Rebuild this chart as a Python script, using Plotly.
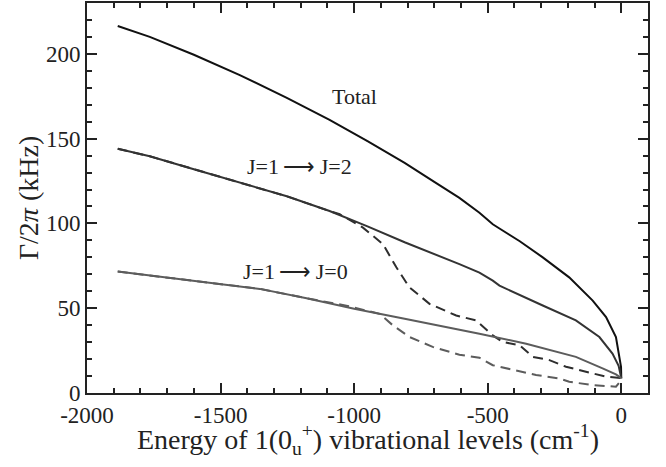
import plotly.graph_objects as go

# values (energy in cm^-1, rate in kHz)
x_total = [-1885, -1765, -1600, -1428, -1252, -1092, -950, -811, -700, -606, -531,
           -481, -456, -380, -294, -195, -107, -57, -20, -1, 0]
y_total = [216.4, 210, 199.5, 187.5, 174, 161.1, 148.5, 135.7, 124.5, 115.1, 106.3,
           99.5, 97, 89.5, 80, 68.2, 54.5, 44.8, 33, 15.4, 8.5]

x_j2 = [-1885, -1765, -1600, -1428, -1252, -1092, -950, -811, -700, -606, -531,
        -481, -456, -380, -294, -170, -82, -33, -10, 0]
y_j2 = [144, 139.6, 132, 123.9, 116, 107.3, 98.3, 88.9, 82, 76, 71,
        66.3, 63.3, 58, 51.6, 42.8, 33, 23.2, 16, 8.8]

x_j0 = [-1885, -1765, -1600, -1353, -1178, -1000, -811, -606, -531, -356, -170, -70, -20, 0]
y_j0 = [71.6, 69.2, 66, 61.4, 55.9, 49.7, 43.8, 37.5, 35, 29.1, 21.3, 14.5, 11, 8.8]

x_j2_dash = [-1885, -1765, -1600, -1428, -1252, -1092, -1054, -967, -892, -842, -793,
             -718, -618, -544, -481, -444, -381, -331, -269, -207, -132, -57, 0]
y_j2_dash = [144, 139.6, 132, 123.9, 116, 107.3, 105.4, 97.5, 87.8, 74.1, 62.3,
             52.6, 45.7, 42.8, 34, 30.1, 28.2, 21.3, 19.4, 15.5, 12.5, 9.6, 8.8]

x_j0_dash = [-1885, -1765, -1600, -1353, -1178, -1029, -905, -855, -793, -706, -606,
             -531, -481, -406, -319, -232, -195, -107, -20, 0]
y_j0_dash = [71.6, 69.2, 66, 61.4, 55.9, 51.5, 46.7, 39.9, 33, 27.2, 22.6,
             20.8, 16.4, 13.9, 10.6, 8.6, 6.6, 4.7, 3.7, 7.6]

x_tickvals = [-2000, -1500, -1000, -500, 0]
x_ticktext = ["-2000", "-1500", "-1000", "-500", "0"]
y_tickvals = [0, 50, 100, 150, 200]
y_ticktext = ["0", "50", "100", "150", "200"]

font = "Liberation Serif, Times New Roman, serif"
ink = "#222222"

fig = go.Figure()

# dashed curves first so the solid ones sit on top where they overlap
fig.add_trace(go.Scatter(x=x_j2_dash, y=y_j2_dash, mode="lines",
                         line=dict(color="#2e2e2e", width=2, dash="10px,6px")))
fig.add_trace(go.Scatter(x=x_j0_dash, y=y_j0_dash, mode="lines",
                         line=dict(color="#5c5c5c", width=2, dash="10px,6px")))
fig.add_trace(go.Scatter(x=x_total, y=y_total, mode="lines",
                         line=dict(color="#111111", width=2)))
fig.add_trace(go.Scatter(x=x_j2, y=y_j2, mode="lines",
                         line=dict(color="#333333", width=2)))
fig.add_trace(go.Scatter(x=x_j0, y=y_j0, mode="lines",
                         line=dict(color="#5c5c5c", width=2)))

axis_common = dict(
    showline=True, linecolor=ink, linewidth=2, mirror="allticks",
    ticks="inside", ticklen=10, tickwidth=1.5, tickcolor=ink,
    showgrid=False, zeroline=False, tickmode="array",
    tickfont=dict(family=font, size=23, color=ink),
)

fig.update_xaxes(range=[-2000, 100], tickvals=x_tickvals, ticktext=x_ticktext,
                 minor=dict(ticks="inside", ticklen=5, dtick=100, tick0=-2000,
                            tickcolor=ink, tickwidth=1.5, showgrid=False),
                 **axis_common)
fig.update_yaxes(range=[0, 230], tickvals=y_tickvals, ticktext=y_ticktext,
                 minor=dict(ticks="inside", ticklen=5, dtick=10, tick0=0,
                            tickcolor=ink, tickwidth=1.5, showgrid=False),
                 **axis_common)

labels = [
    dict(x=-1000, y=175, text="Total"),
    dict(x=-1204, y=133.3, text="J=1\u2009⟶\u2009J=2"),
    dict(x=-1219, y=71.8, text="J=1\u2009⟶\u2009J=0"),
]
for lab in labels:
    fig.add_annotation(x=lab["x"], y=lab["y"], text=lab["text"], showarrow=False,
                       font=dict(family=font, size=22, color=ink))

# axis titles
fig.add_annotation(xref="paper", yref="paper", x=0.5, y=-0.118, xanchor="center",
                   yanchor="middle",
                   text="Energy of 1(0<sub>u</sub><sup>+</sup>) vibrational levels (cm<sup>-1</sup>)",
                   showarrow=False, font=dict(family=font, size=28, color=ink))
fig.add_annotation(xref="paper", yref="paper", x=-0.105, y=0.5, xanchor="center",
                   yanchor="middle", textangle=-90,
                   text="Γ/2<i>π</i> (kHz)",
                   showarrow=False, font=dict(family=font, size=28, color=ink))

fig.update_layout(
    width=666, height=467,
    margin=dict(l=87, r=18, t=1, b=74),
    showlegend=False,
    plot_bgcolor="white", paper_bgcolor="white",
)

fig.write_html("out.html", config={"displayModeBar": False},
               post_script="document.body.style.margin='0';")
